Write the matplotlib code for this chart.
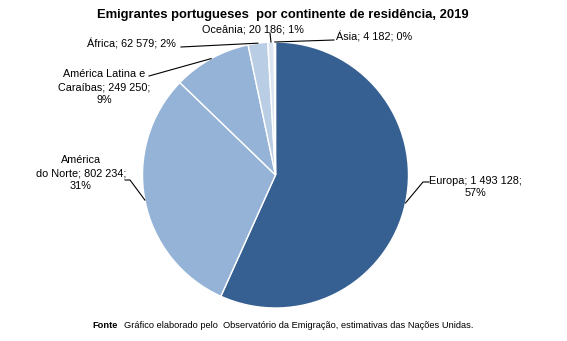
import matplotlib
matplotlib.use('Agg')
import matplotlib.pyplot as plt
import numpy as np

plt.rcParams['font.family'] = ['Liberation Sans', 'DejaVu Sans']

regions = ['Europa', 'América do Norte', 'América Latina e Caraíbas', 'África', 'Oceânia', 'Ásia']
values = [1493128, 802234, 249250, 62579, 20186, 4182]
label_texts = ['Europa; 1 493 128;\n57%',
               'América\ndo Norte; 802 234;\n31%',
               'América Latina e\nCaraíbas; 249 250;\n9%',
               'África; 62 579; 2%',
               'Oceânia; 20 186; 1%',
               'Ásia; 4 182; 0%']
colors = ['#376092', '#95b3d7', '#95b3d7', '#b9cde5', '#dce6f2', '#dce6f2']

W, H = 567, 341
fig = plt.figure(figsize=(W / 100, H / 100), dpi=100)
cx, cy, R = 275.5, 175, 133
ax = fig.add_axes([(cx - R) / W, (H - cy - R) / H, 2 * R / W, 2 * R / H])

wedges, _ = ax.pie(values, colors=colors, startangle=90, counterclock=False, radius=1,
                   wedgeprops=dict(edgecolor='white', linewidth=1))
ax.set_xlim(-1, 1)
ax.set_ylim(-1, 1)
ax.set_aspect('equal')
ax.axis('off')

def p(px, py):
    return ((px - cx) / R, (cy - py) / R)

# label layout: (text position px, ha, leader points px after the wedge edge)
layout = [
    ((475, 187), 'center', [(423, 182), (429, 182)]),
    ((81, 173), 'center', [(130, 180), (125, 180)]),
    ((104, 87), 'center', [(149, 76)]),
    ((131, 44), 'center', [(181, 47)]),
    ((253, 29), 'center', [(270, 33)]),
    ((336, 37), 'left', [(334, 40)]),
]

for w, txt, (tpos, ha, pts) in zip(wedges, label_texts, layout):
    ang = np.deg2rad((w.theta1 + w.theta2) / 2)
    x0, y0 = np.cos(ang), np.sin(ang)
    xs = [x0] + [p(*q)[0] for q in pts]
    ys = [y0] + [p(*q)[1] for q in pts]
    ax.plot(xs, ys, color='black', linewidth=0.8, clip_on=False)
    tx, ty = p(*tpos)
    ax.text(tx, ty, txt, ha=ha, va='center', fontsize=7.8, linespacing=1.35,
            multialignment='center', clip_on=False)

fig.text(283 / W, 1 - 15 / H, 'Emigrantes portugueses  por continente de residência, 2019',
         ha='center', va='center', fontsize=9.4, fontweight='bold')
fig.text(92 / W, 1 - 326 / H, 'Fonte', ha='left', va='center', fontsize=6.7, fontweight='bold')
fig.text(124 / W, 1 - 326 / H,
         'Gráfico elaborado pelo  Observatório da Emigração, estimativas das Nações Unidas.',
         ha='left', va='center', fontsize=6.7)

fig.savefig('out.png', dpi=100)
